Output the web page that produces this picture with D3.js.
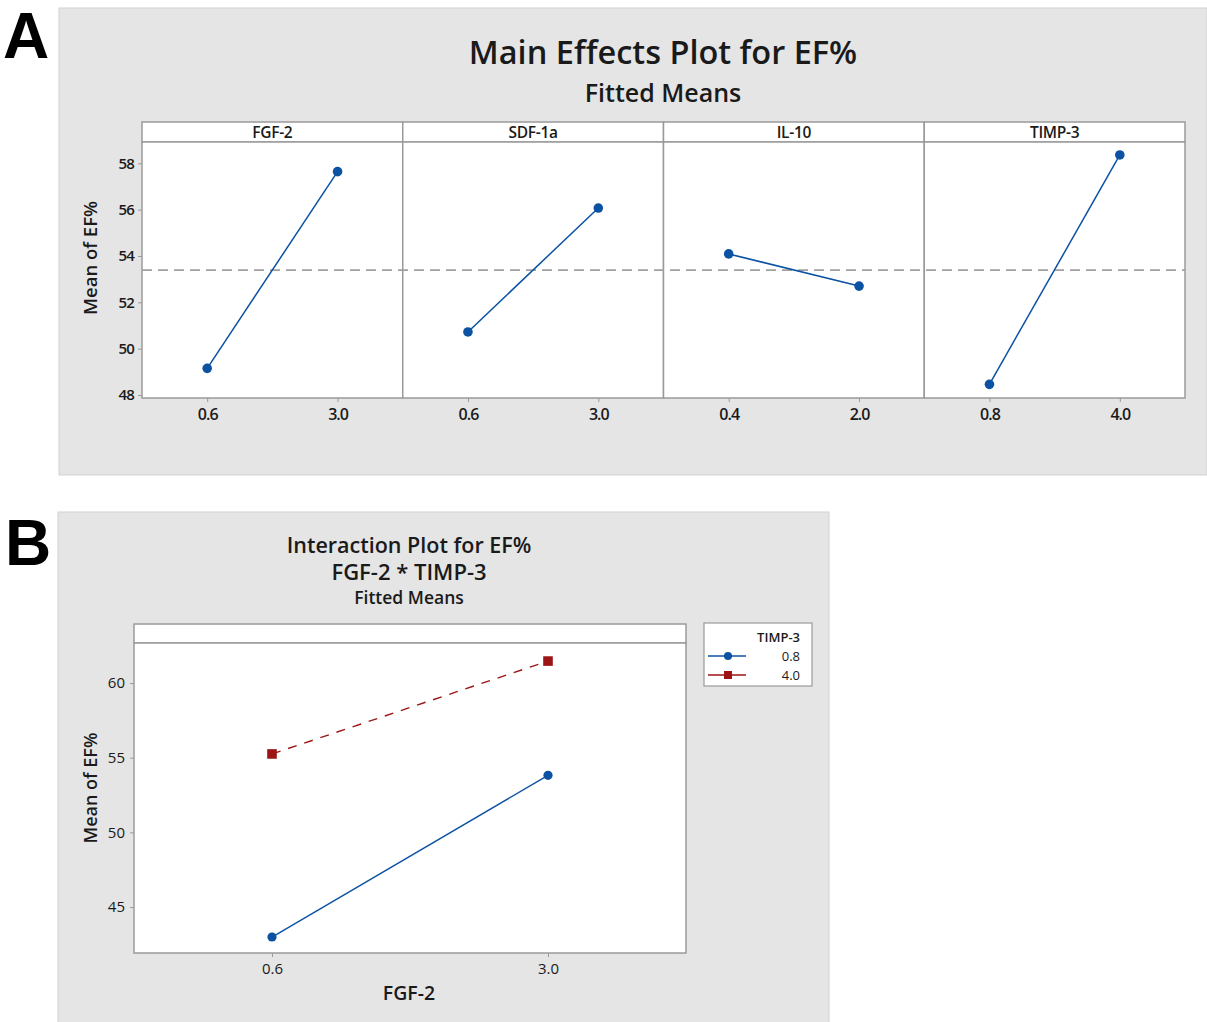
<!DOCTYPE html>
<html><head><meta charset="utf-8">
<script src="https://cdn.jsdelivr.net/npm/d3@7"></script>
<style>
body{margin:0;background:#fff;}
svg{display:block;}
text{font-family:"Open Sans","Noto Sans",sans-serif;fill:#1a1a1a;}
</style></head>
<body>
<svg id="c" width="1207" height="1022"></svg>
<script>
// ---------- DATA ----------
const factors = ["FGF-2", "SDF-1a", "IL-10", "TIMP-3"];
const factorLevels = [["0.6","3.0"], ["0.6","3.0"], ["0.4","2.0"], ["0.8","4.0"]];
const mainMeans = [[49.15, 57.64], [50.72, 56.07], [54.09, 52.70], [48.46, 58.36]];
const grandMean = 53.39;
const mainYTicks = [48, 50, 52, 54, 56, 58];

const interLevels = ["0.6", "3.0"];
const interSeries = ["0.8", "4.0"];
const interValues = [[42.99, 53.82], [55.25, 61.47]];
const interYTicks = [45, 50, 55, 60];

// ---------- STYLE ----------
const blue = "#0b52a2", red = "#9c1414", axisGray = "#9a9a9a", bg = "#e5e5e5";
const svg = d3.select("#c");

// ================= PANEL A =================
svg.append("rect").attr("x",59).attr("y",8).attr("width",1148).attr("height",467)
  .attr("fill",bg).attr("stroke","#d2d2d2");
svg.append("text").attr("x",3).attr("y",58).text("A")
  .style("font-family","'Liberation Sans',Arial,sans-serif").style("font-weight","bold").style("font-size","64px").style("fill","#000");

svg.append("text").attr("x",663).attr("y",64).attr("text-anchor","middle")
  .style("font-size","32.5px").style("font-weight","600").text("Main Effects Plot for EF%");
svg.append("text").attr("x",663).attr("y",102).attr("text-anchor","middle")
  .style("font-size","25px").style("font-weight","600").text("Fitted Means");

const aL = 142, aR = 1185, aStripT = 122, aTop = 142, aBot = 398;
const yA = d3.scaleLinear().domain([47.87, 58.92]).range([aBot, aTop]);
const panelX = d3.scaleBand().domain(factors).range([aL, aR]).padding(0);
const pw = panelX.bandwidth();

factors.forEach((f,i)=>{
  const x0 = panelX(f);
  svg.append("rect").attr("x",x0).attr("y",aStripT).attr("width",pw).attr("height",aTop-aStripT)
    .attr("fill","#fff").attr("stroke",axisGray).attr("stroke-width",1.5);
  svg.append("rect").attr("x",x0).attr("y",aTop).attr("width",pw).attr("height",aBot-aTop)
    .attr("fill","#fff").attr("stroke",axisGray).attr("stroke-width",1.5);
  svg.append("text").attr("x",x0+pw/2).attr("y",aStripT+15.5).attr("text-anchor","middle")
    .style("font-size","15.5px").style("font-weight","600").style("letter-spacing","-0.3px").text(f);
});

svg.append("line").attr("x1",aL).attr("x2",aR).attr("y1",yA(grandMean)).attr("y2",yA(grandMean))
  .attr("stroke","#a0a0a0").attr("stroke-width",1.6).attr("stroke-dasharray","10,6");

const gyA = svg.append("g").attr("transform",`translate(${aL},0)`)
  .call(d3.axisLeft(yA).tickValues(mainYTicks).tickSize(4).tickPadding(4).tickFormat(d3.format("d")));
gyA.select(".domain").remove();
gyA.selectAll(".tick line").attr("stroke",axisGray);
gyA.selectAll(".tick text").style("font-size","15px").style("font-weight","600").style("letter-spacing","-0.8px")
  .style("font-family","'Open Sans',sans-serif").attr("fill","#222");

svg.append("text").attr("transform","translate(97,258) rotate(-90)").attr("text-anchor","middle")
  .style("font-size","18.5px").style("font-weight","600").text("Mean of EF%");

factors.forEach((f,i)=>{
  const x0 = panelX(f);
  const xs = d3.scalePoint().domain(factorLevels[i]).range([x0, x0+pw]).padding(0.5);
  const gx = svg.append("g").attr("transform",`translate(0,${aBot})`)
    .call(d3.axisBottom(xs).tickSize(4).tickPadding(7));
  gx.select(".domain").remove();
  gx.selectAll(".tick line").attr("stroke",axisGray);
  gx.selectAll(".tick text").style("font-size","16px").style("font-weight","600").style("letter-spacing","-1px")
    .style("font-family","'Open Sans',sans-serif").attr("fill","#222");
  const pts = factorLevels[i].map((l,j)=>({x:xs(l), y:yA(mainMeans[i][j])}));
  svg.append("path").datum(pts).attr("d",d3.line().x(d=>d.x).y(d=>d.y))
    .attr("fill","none").attr("stroke",blue).attr("stroke-width",1.5);
  svg.selectAll(null).data(pts).enter().append("circle")
    .attr("cx",d=>d.x).attr("cy",d=>d.y).attr("r",4.8).attr("fill",blue);
});

// ================= PANEL B =================
svg.append("rect").attr("x",58).attr("y",512).attr("width",771).attr("height",515)
  .attr("fill",bg).attr("stroke","#d2d2d2");
svg.append("text").attr("x",5).attr("y",565).text("B")
  .style("font-family","'Liberation Sans',Arial,sans-serif").style("font-weight","bold").style("font-size","64px").style("fill","#000");

svg.append("text").attr("x",409).attr("y",553).attr("text-anchor","middle")
  .style("font-size","21.5px").style("font-weight","600").text("Interaction Plot for EF%");
svg.append("text").attr("x",409).attr("y",580).attr("text-anchor","middle")
  .style("font-size","22px").style("font-weight","600").text("FGF-2 * TIMP-3");
svg.append("text").attr("x",409).attr("y",604).attr("text-anchor","middle")
  .style("font-size","17.5px").style("font-weight","600").text("Fitted Means");

const bL = 134, bR = 686, bStripT = 624, bTop = 643, bBot = 953;
const yB = d3.scaleLinear().domain([41.92, 62.68]).range([bBot, bTop]);
const xB = d3.scalePoint().domain(interLevels).range([bL, bR]).padding(0.5);

svg.append("rect").attr("x",bL).attr("y",bStripT).attr("width",bR-bL).attr("height",bTop-bStripT)
  .attr("fill","#fff").attr("stroke",axisGray).attr("stroke-width",1.5);
svg.append("rect").attr("x",bL).attr("y",bTop).attr("width",bR-bL).attr("height",bBot-bTop)
  .attr("fill","#fff").attr("stroke",axisGray).attr("stroke-width",1.5);

const gyB = svg.append("g").attr("transform",`translate(${bL},0)`)
  .call(d3.axisLeft(yB).tickValues(interYTicks).tickSize(4).tickPadding(5).tickFormat(d3.format("d")));
gyB.select(".domain").remove();
gyB.selectAll(".tick line").attr("stroke",axisGray);
gyB.selectAll(".tick text").style("font-size","15px").style("font-weight","500").style("font-family","'Open Sans',sans-serif").attr("fill","#222");

const gxB = svg.append("g").attr("transform",`translate(0,${bBot})`)
  .call(d3.axisBottom(xB).tickSize(4).tickPadding(6));
gxB.select(".domain").remove();
gxB.selectAll(".tick line").attr("stroke",axisGray);
gxB.selectAll(".tick text").style("font-size","15px").style("font-weight","500").style("font-family","'Open Sans',sans-serif").attr("fill","#222");

svg.append("text").attr("transform","translate(97,788) rotate(-90)").attr("text-anchor","middle")
  .style("font-size","18px").style("font-weight","600").text("Mean of EF%");
svg.append("text").attr("x",409).attr("y",1000).attr("text-anchor","middle")
  .style("font-size","19.5px").style("font-weight","600").text("FGF-2");

const sColors = [blue, red];
interSeries.forEach((s,k)=>{
  const pts = interLevels.map((l,j)=>({x:xB(l), y:yB(interValues[k][j])}));
  svg.append("path").datum(pts).attr("d",d3.line().x(d=>d.x).y(d=>d.y))
    .attr("fill","none").attr("stroke",sColors[k]).attr("stroke-width",1.4)
    .attr("stroke-dasharray", k===1 ? "9,8" : null);
  if(k===0){
    svg.selectAll(null).data(pts).enter().append("circle")
      .attr("cx",d=>d.x).attr("cy",d=>d.y).attr("r",4.6).attr("fill",blue);
  } else {
    svg.selectAll(null).data(pts).enter().append("rect")
      .attr("x",d=>d.x-4.8).attr("y",d=>d.y-4.8).attr("width",9.6).attr("height",9.6).attr("fill",red);
  }
});

// legend
const lg = svg.append("g");
lg.append("rect").attr("x",704).attr("y",623).attr("width",108).attr("height",63)
  .attr("fill","#fff").attr("stroke",axisGray).attr("stroke-width",1.2);
lg.append("text").attr("x",800).attr("y",642).attr("text-anchor","end")
  .style("font-size","13px").style("font-weight","600").text("TIMP-3");
interSeries.forEach((s,k)=>{
  const yy = 656 + k*19;
  lg.append("line").attr("x1",708).attr("x2",746).attr("y1",yy).attr("y2",yy)
    .attr("stroke",sColors[k]).attr("stroke-width",1.4);
  if(k===0) lg.append("circle").attr("cx",728).attr("cy",yy).attr("r",4).attr("fill",blue);
  else lg.append("rect").attr("x",724).attr("y",yy-4).attr("width",8).attr("height",8).attr("fill",red);
  lg.append("text").attr("x",800).attr("y",yy+4.5).attr("text-anchor","end")
    .style("font-size","13px").style("font-weight","500").text(s);
});
</script>
</body></html>
